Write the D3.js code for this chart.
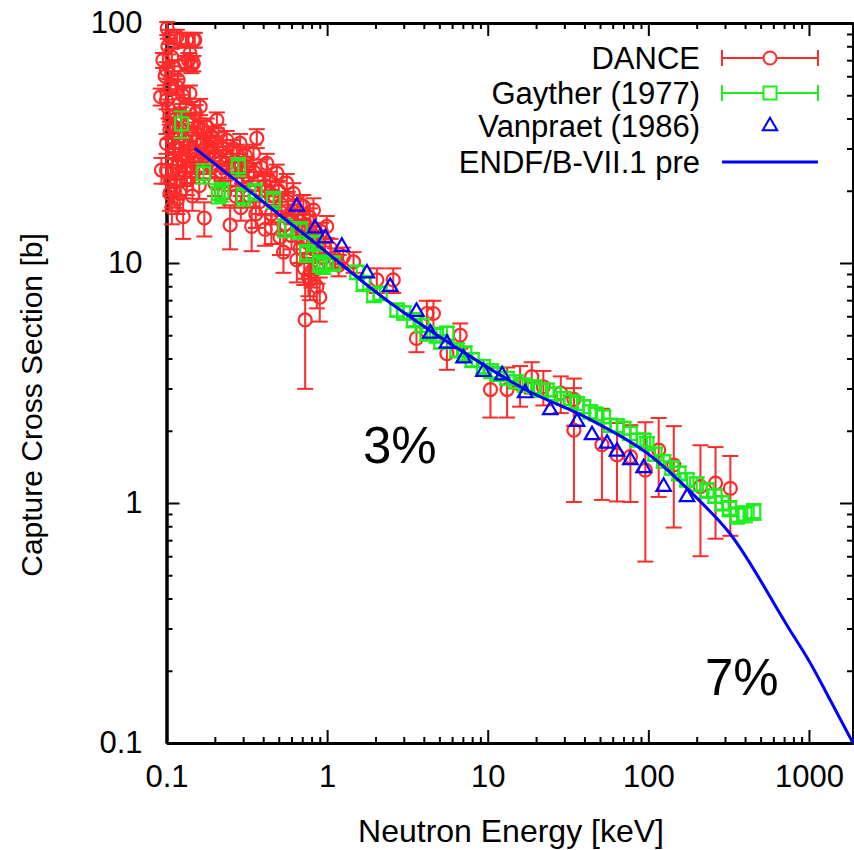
<!DOCTYPE html>
<html>
<head>
<meta charset="utf-8">
<script src="https://cdnjs.cloudflare.com/ajax/libs/d3/7.8.5/d3.min.js"></script>
<style>
  body { margin: 0; background: #fff; }
  text { font-family: "Liberation Sans", Arial, sans-serif; fill: #000; }
</style>
</head>
<body>
<div id="chart"></div>
<script>
// ---- data (energy in keV, cross section in barn) ----
var danceE = [0.101, 0.116, 0.134, 0.150, 0.137, 0.143, 0.105, 0.121, 0.147, 0.140, 0.130, 0.147,
  0.100, 0.105, 0.100, 0.116, 0.121, 0.140, 0.162, 0.147, 0.206, 0.211, 0.178, 0.237, 0.287, 0.365,
  0.348, 0.274, 0.237, 0.421, 0.486, 0.617, 0.711, 0.822, 0.995, 0.105, 0.105, 0.100, 0.110, 0.100,
  0.116, 0.134, 0.134, 0.121, 0.105, 0.093, 0.092, 0.185, 0.316, 0.561, 0.095, 0.098, 0.110, 0.120,
  0.125, 0.130, 0.115, 0.140, 0.150, 0.160, 0.155, 0.170, 0.190, 0.200, 0.220, 0.250, 0.300, 0.270,
  0.330, 0.380, 0.420, 0.450, 0.600, 0.550, 0.700, 0.750, 0.850, 0.950,
  0.102, 0.108, 0.112, 0.118, 0.103, 0.109, 0.113, 0.118, 0.106, 0.112, 0.119, 0.123, 0.126, 0.128,
  0.132, 0.136, 0.138, 0.142, 0.145, 0.152, 0.157, 0.163, 0.168, 0.175, 0.180, 0.188, 0.195, 0.205,
  0.215, 0.225, 0.235, 0.245, 0.260, 0.280, 0.295, 0.310, 0.325, 0.350, 0.370, 0.390, 0.410, 0.440,
  0.470, 0.500, 0.520, 0.570, 0.620, 0.660, 0.680, 0.730, 0.780, 0.800, 0.880, 0.920, 0.970, 1.05,
  1.12, 1.18, 0.108, 0.117, 0.145, 0.160, 0.200, 0.230, 0.290, 0.360, 0.450, 0.600, 0.680, 0.720,
  0.800, 0.870,
  0.127, 0.172, 0.249, 0.339, 0.411, 0.509, 0.535, 0.648, 0.765, 0.863, 0.900, 0.730, 0.783,
  1.26, 1.46, 2.04, 2.58, 4.18, 3.60, 4.59, 5.57, 6.74, 10.4, 13.2, 15.9, 18.8, 22.2, 28.5, 34.4,
  34.4, 51.4, 63.8, 77.3, 95.8, 116, 144, 211, 262, 324];
var danceS = [95, 87.7, 85, 85, 70, 66.8, 87.7, 85, 85, 74.8, 67.9, 67.9,
  63.7, 54.3, 47.7, 54.3, 46.2, 50.9, 44.8, 39.4, 39.4, 34.7, 37.0, 32.5, 31.5, 33.1,
  28.6, 28.6, 26.0, 26.0, 23.7, 19.5, 17.2, 16.6, 14.2, 40.7, 35.8, 31.5, 28.6, 24.4,
  25.2, 26.8, 22.2, 19.5, 19.5, 24.4, 49.3, 30.5, 25.2, 21.5, 70, 60, 33, 30,
  27, 24, 22, 29, 27, 25, 33, 28, 25, 28, 24, 22, 22, 19,
  19, 18, 20, 16, 16, 14.5, 13.5, 12.2, 11.5, 10.5,
  80, 72, 65, 58, 44, 37, 30, 26, 22, 20, 35, 41, 50, 33,
  45, 38, 31, 24, 34, 42, 37, 31, 36, 30, 26, 34, 29, 32,
  27, 30, 28, 25, 30, 26, 24, 28, 23, 24, 22, 25, 21, 22,
  19, 20, 17.5, 18, 16.5, 15, 17.5, 14.5, 15.5, 13, 12.5, 13.5, 11.5, 11.5,
  10.5, 9.8, 17, 18.5, 19, 21, 21.5, 19.5, 17, 16, 14, 13, 11.5, 9.5,
  9.2, 9.5,
  15.6, 15.4, 14.4, 14.2, 13.8, 12.8, 11.1, 10.3, 8.77, 7.97, 7.2, 5.79, 8.5,
  10.6, 10.1, 8.5, 8.5, 6.16, 4.85, 6.16, 4.19, 5.0, 2.97, 2.97, 3.12, 3.36, 3.05, 2.87, 2.70,
  2.01, 1.75, 1.585, 1.56, 1.37, 1.66, 1.44, 1.17, 1.21, 1.15];
var danceErr = [6, 6, 6, 6, 5, 5, 6, 6, 6, 5, 5, 5,
  5, 4, 4, 4, 4, 4, 3.5, 3, 3, 3, 3, 3, 3, 3,
  2.5, 2.5, 2.5, 2.5, 2, 2, 2, 2, 1.5, 3, 3, 3, 3, 3,
  3, 3, 3, 3, 3, 3, 4, 3, 2.5, 2, 5, 5, 3, 3,
  3, 3, 3, 3, 3, 2.5, 3, 2.5, 2.5, 2.5, 2, 2, 2, 2,
  2, 2, 2, 1.5, 1.5, 1.5, 1.5, 1.2, 1.2, 1.2,
  6, 6, 5, 5, 4, 3.5, 3, 3, 3, 3, 3, 3.5, 4, 3,
  3.5, 3, 3, 2.5, 3, 3.5, 3, 3, 3, 3, 2.5, 3, 2.5, 3,
  2.5, 2.5, 2.5, 2.5, 2.5, 2.5, 2.5, 2.5, 2, 2, 2, 2, 2, 2,
  2, 2, 1.8, 1.8, 1.6, 1.5, 1.6, 1.4, 1.4, 1.3, 1.2, 1.2, 1.1, 1.1,
  1, 1, 2.5, 2.5, 2.5, 2.5, 2.5, 2.5, 2, 2, 2, 1.6, 1.5, 1.4,
  1.3, 1.3,
  3, 2.5, 3, 3, 2, 2, 2, 2, 1.5, 1.5, 1.5, 2.8, 1.5,
  1, 1, 1, 1, 0.8, 0.6, 0.8, 0.6, 0.6, 0.7, 0.7, 0.6, 0.5, 0.5, 0.5, 0.6,
  1.0, 0.72, 0.57, 0.55, 0.8, 0.6, 0.65, 0.57, 0.5, 0.42];

var gaytherE = [0.124, 0.170, 0.210, 0.221, 0.280, 0.301, 0.356, 0.463, 0.547, 0.680, 0.747, 0.840,
  0.900, 0.948, 1.09, 1.53, 1.68, 1.95, 2.14, 2.72, 3.0, 3.45, 3.9, 4.18, 4.8, 5.1, 5.57, 6.43,
  7.2, 8.0, 9.4, 10.5, 11.5, 13.2, 15, 17, 19.5, 21, 23.4, 26, 29.7, 33, 36,
  39.5, 43.5, 47, 52.6, 58, 64, 70.2, 77, 85, 93.5, 98, 110, 124.5, 140, 155, 174, 200, 232,
  260, 288, 320, 357, 400, 453];
var gaytherS = [38, 23.6, 19.5, 19.8, 25.2, 18.9, 19.8, 18.3, 14.0, 13.7, 11.0, 12.1,
  9.97, 9.8, 9.97, 9.15, 8.23, 7.36, 7.48, 6.37, 6.2, 5.79, 5.5, 5.09, 5.0, 4.7, 5.09, 4.34,
  4.2, 3.95, 3.70, 3.55, 3.45, 3.31, 3.2, 3.1, 3.05, 2.95, 2.96, 2.85, 2.73, 2.65, 2.6,
  2.52, 2.40, 2.35, 2.29, 2.11, 2.1, 2.05, 1.95, 1.83, 1.83, 1.77, 1.6, 1.49, 1.4, 1.33, 1.25, 1.2, 1.13,
  1.07, 1.0, 0.95, 0.89, 0.9, 0.92];
var gaytherErr = [4.8, 2.2, 1.8, 1.8, 2.2, 1.6, 1.6, 1.5, 1.2, 1.1, 0.9, 0.9,
  0.8, 0.8, 0.7, 0.6, 0.6, 0.5, 0.5, 0.4, 0.4, 0.4, 0.35, 0.35, 0.35, 0.3, 0.35, 0.3,
  0.3, 0.27, 0.25, 0.24, 0.23, 0.2, 0.2, 0.19, 0.19, 0.18, 0.18, 0.17, 0.17, 0.16, 0.16,
  0.15, 0.15, 0.14, 0.14, 0.13, 0.13, 0.12, 0.12, 0.11, 0.11, 0.11, 0.1, 0.09, 0.09, 0.09, 0.08, 0.08, 0.08,
  0.07, 0.07, 0.07, 0.07, 0.07, 0.07];

var vanpraetE = [0.648, 0.842, 0.976, 1.235, 1.77, 2.47, 3.6, 4.4, 5.57, 7.07, 9.4, 12.3, 17.1,
  24.5, 36, 44.6, 55.3, 63.8, 77.3, 93.5, 124.5, 174];
var vanpraetS = [17.2, 13.95, 12.7, 11.7, 9.06, 7.97, 6.27, 5.09, 4.62, 4.01, 3.52, 3.41, 2.87,
  2.44, 2.18, 1.92, 1.77, 1.64, 1.51, 1.40, 1.17, 1.06];

var endfE = [0.15, 0.75, 2.35, 6.7, 16.7, 45, 100, 200, 320, 750, 1000, 1400, 1880];
var endfS = [30.1, 12.9, 7.0, 4.35, 3.0, 2.2, 1.6, 1.05, 0.75, 0.30, 0.22, 0.145, 0.1];

var xTickVals = [0.1, 1, 10, 100, 1000];
var xTickLabels = ["0.1", "1", "10", "100", "1000"];
var yTickVals = [0.1, 1, 10, 100];
var yTickLabels = ["0.1", "1", "10", "100"];

var legendNames = ["DANCE", "Gayther (1977)", "Vanpraet (1986)", "ENDF/B-VII.1 pre"];
var notes = ["3%", "7%"];

// ---- drawing ----
var width = 854, height = 850;
var plotLeft = 166.5, plotRight = 853, plotTop = 23, plotBottom = 743;

var red = "#ff2a2a", green = "#1eee1e", blue = "#0000ff";

var svg = d3.select("#chart").append("svg")
  .attr("width", width)
  .attr("height", height);

var xScale = d3.scaleLog().domain([0.1, 1880]).range([plotLeft, plotRight]);
var yScale = d3.scaleLog().domain([0.1, 100]).range([plotBottom, plotTop]);

// minor tick positions 2..9 in each decade
var xMinor = [], yMinor = [];
[0.1, 1, 10, 100, 1000].forEach(function (d) {
  for (var k = 2; k <= 9; k++) {
    if (d * k <= 1880) xMinor.push(d * k);
  }
});
[0.1, 1, 10].forEach(function (d) {
  for (var k = 2; k <= 9; k++) yMinor.push(d * k);
});

function styleAxis(g) {
  g.select(".domain").attr("stroke", "#000").attr("stroke-width", 3);
  g.selectAll(".tick line").attr("stroke", "#000").attr("stroke-width", 2);
  g.selectAll(".tick text").style("font-size", "31px").attr("fill", "#000");
}

// bottom
svg.append("g").attr("transform", "translate(0," + plotBottom + ")")
  .call(d3.axisBottom(xScale).tickValues(xMinor).tickFormat("").tickSize(-6).tickSizeOuter(0))
  .call(styleAxis);
svg.append("g").attr("transform", "translate(0," + plotBottom + ")")
  .call(d3.axisBottom(xScale).tickValues(xTickVals)
    .tickFormat(function (d, i) { return xTickLabels[i]; })
    .tickSize(-13).tickSizeOuter(0).tickPadding(22))
  .call(styleAxis);
// top
svg.append("g").attr("transform", "translate(0," + plotTop + ")")
  .call(d3.axisTop(xScale).tickValues(xMinor).tickFormat("").tickSize(-6).tickSizeOuter(0))
  .call(styleAxis);
svg.append("g").attr("transform", "translate(0," + plotTop + ")")
  .call(d3.axisTop(xScale).tickValues(xTickVals).tickFormat("").tickSize(-13).tickSizeOuter(0))
  .call(styleAxis);
// left
svg.append("g").attr("transform", "translate(" + plotLeft + ",0)")
  .call(d3.axisLeft(yScale).tickValues(yMinor).tickFormat("").tickSize(-6).tickSizeOuter(0))
  .call(styleAxis);
svg.append("g").attr("transform", "translate(" + plotLeft + ",0)")
  .call(d3.axisLeft(yScale).tickValues(yTickVals)
    .tickFormat(function (d, i) { return yTickLabels[i]; })
    .tickSize(-13).tickSizeOuter(0).tickPadding(24))
  .call(styleAxis);
// right
svg.append("g").attr("transform", "translate(" + plotRight + ",0)")
  .call(d3.axisRight(yScale).tickValues(yMinor).tickFormat("").tickSize(-6).tickSizeOuter(0))
  .call(styleAxis);
svg.append("g").attr("transform", "translate(" + plotRight + ",0)")
  .call(d3.axisRight(yScale).tickValues(yTickVals).tickFormat("").tickSize(-13).tickSizeOuter(0))
  .call(styleAxis);

// axis titles
svg.append("text")
  .attr("x", 511).attr("y", 842)
  .style("text-anchor", "middle").style("font-size", "32px")
  .text("Neutron Energy [keV]");

svg.append("text")
  .attr("transform", "translate(42,405) rotate(-90)")
  .style("text-anchor", "middle").style("font-size", "30px")
  .text("Capture Cross Section [b]");

// error bar helper
function errorBars(g, xs, ys, es, color, cap) {
  var rows = xs.map(function (x, i) { return { x: x, y: ys[i], e: es[i] }; });
  var bars = g.selectAll(null).data(rows).enter().append("g")
    .attr("stroke", color).attr("stroke-width", 2).attr("fill", "none");
  bars.append("line")
    .attr("x1", function (d) { return xScale(d.x); })
    .attr("x2", function (d) { return xScale(d.x); })
    .attr("y1", function (d) { return yScale(Math.max(d.y - d.e, 0.05)); })
    .attr("y2", function (d) { return yScale(d.y + d.e); });
  [-1, 1].forEach(function (s) {
    bars.append("line")
      .attr("x1", function (d) { return xScale(d.x) - cap; })
      .attr("x2", function (d) { return xScale(d.x) + cap; })
      .attr("y1", function (d) { return yScale(s > 0 ? d.y + d.e : Math.max(d.y - d.e, 0.05)); })
      .attr("y2", function (d) { return yScale(s > 0 ? d.y + d.e : Math.max(d.y - d.e, 0.05)); });
  });
}

// DANCE
var gDance = svg.append("g");
errorBars(gDance, danceE, danceS, danceErr, red, 8);
gDance.selectAll("circle").data(danceE).enter().append("circle")
  .attr("cx", function (d) { return xScale(d); })
  .attr("cy", function (d, i) { return yScale(danceS[i]); })
  .attr("r", 6.5)
  .attr("fill", "none").attr("stroke", red).attr("stroke-width", 2.2);

// Gayther
var gGay = svg.append("g");
errorBars(gGay, gaytherE, gaytherS, gaytherErr, green, 8);
gGay.selectAll("rect").data(gaytherE).enter().append("rect")
  .attr("x", function (d) { return xScale(d) - 6.5; })
  .attr("y", function (d, i) { return yScale(gaytherS[i]) - 6.5; })
  .attr("width", 13).attr("height", 13)
  .attr("fill", "none").attr("stroke", green).attr("stroke-width", 2.2);

// Vanpraet
var tri = d3.symbol().type(d3.symbolTriangle).size(90);
svg.append("g").selectAll("path").data(vanpraetE).enter().append("path")
  .attr("d", tri)
  .attr("transform", function (d, i) {
    return "translate(" + xScale(d) + "," + yScale(vanpraetS[i]) + ")";
  })
  .attr("fill", "none").attr("stroke", blue).attr("stroke-width", 2.2);

// ENDF curve
var line = d3.line()
  .x(function (d) { return xScale(d); })
  .y(function (d, i) { return yScale(endfS[i]); })
  .curve(d3.curveMonotoneX);
svg.append("path")
  .attr("d", line(endfE))
  .attr("fill", "none").attr("stroke", blue).attr("stroke-width", 3);

// legend
var legX = 700, legY = [58, 93, 126, 162];
var leg = svg.append("g");
legendNames.forEach(function (name, i) {
  leg.append("text")
    .attr("x", legX).attr("y", legY[i] + 11)
    .style("text-anchor", "end").style("font-size", "31px")
    .text(name);
});
[[red, "circle"], [green, "rect"]].forEach(function (s, i) {
  var y = legY[i];
  var g = leg.append("g").attr("stroke", s[0]).attr("stroke-width", 2).attr("fill", "none");
  g.append("line").attr("x1", 722).attr("x2", 818).attr("y1", y).attr("y2", y);
  g.append("line").attr("x1", 722).attr("x2", 722).attr("y1", y - 8).attr("y2", y + 8);
  g.append("line").attr("x1", 818).attr("x2", 818).attr("y1", y - 8).attr("y2", y + 8);
  if (s[1] === "circle") {
    g.append("circle").attr("cx", 770).attr("cy", y).attr("r", 6.5).attr("fill", "#fff");
  } else {
    g.append("rect").attr("x", 763.5).attr("y", y - 6.5).attr("width", 13).attr("height", 13).attr("fill", "#fff");
  }
});
leg.append("path").attr("d", tri)
  .attr("transform", "translate(770," + legY[2] + ")")
  .attr("fill", "none").attr("stroke", blue).attr("stroke-width", 2);
leg.append("line").attr("x1", 722).attr("x2", 818).attr("y1", legY[3]).attr("y2", legY[3])
  .attr("stroke", blue).attr("stroke-width", 3);

// uncertainty notes
svg.append("text").attr("x", 363).attr("y", 463).style("font-size", "51px").text(notes[0]);
svg.append("text").attr("x", 705).attr("y", 695).style("font-size", "51px").text(notes[1]);
</script>
</body>
</html>
